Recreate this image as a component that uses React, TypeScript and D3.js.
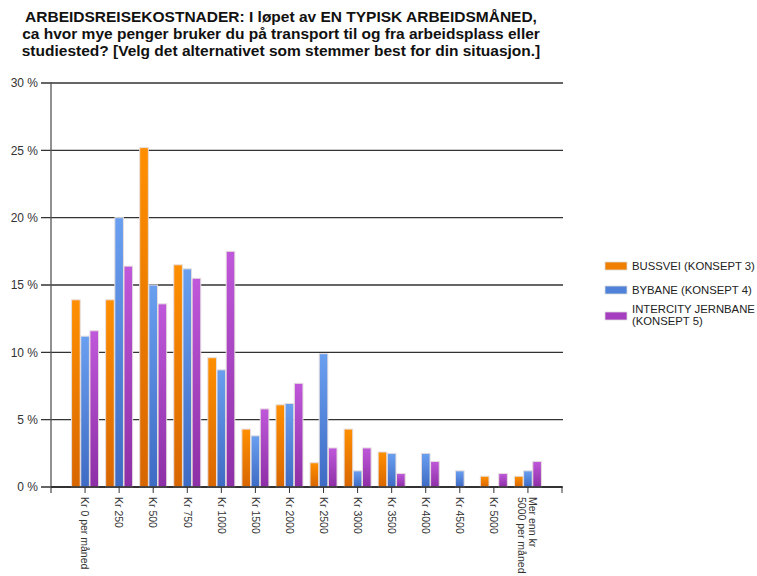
import React from "react";
import * as d3 from "d3";

const categories = [
  "Kr 0 per måned",
  "Kr 250",
  "Kr 500",
  "Kr 750",
  "Kr 1000",
  "Kr 1500",
  "Kr 2000",
  "Kr 2500",
  "Kr 3000",
  "Kr 3500",
  "Kr 4000",
  "Kr 4500",
  "Kr 5000",
  "Mer enn kr 5000 per måned",
];

const seriesNames = [
  "BUSSVEI (KONSEPT 3)",
  "BYBANE (KONSEPT 4)",
  "INTERCITY JERNBANE (KONSEPT 5)",
];

const bussvei = [13.9, 13.9, 25.2, 16.5, 9.6, 4.3, 6.1, 1.8, 4.3, 2.6, 0, 0, 0.8, 0.8];
const bybane = [11.2, 20.0, 15.0, 16.2, 8.7, 3.8, 6.2, 9.9, 1.2, 2.5, 2.5, 1.2, 0, 1.2];
const intercity = [11.6, 16.4, 13.6, 15.5, 17.5, 5.8, 7.7, 2.9, 2.9, 1.0, 1.9, 0, 1.0, 1.9];

const seriesValues = [bussvei, bybane, intercity];
const yTicks = [0, 5, 10, 15, 20, 25, 30];

const titleLines = [
  "ARBEIDSREISEKOSTNADER: I løpet av EN TYPISK ARBEIDSMÅNED,",
  "ca hvor mye penger bruker du på transport til og fra arbeidsplass eller",
  "studiested? [Velg det alternativet som stemmer best for din situasjon.]",
];

const gradients = [
  { id: "g-orange", top: "#ff8f00", bottom: "#d86600" },
  { id: "g-blue", top: "#6a9ff0", bottom: "#3e6bc4" },
  { id: "g-purple", top: "#bf58da", bottom: "#8d2fa6" },
];
const swatchColors = ["#f07f00", "#4f82d8", "#a53fc0"];

const W = 757;
const H = 576;
const left = 51;
const right = 562;
const top = 83;
const bottom = 487;

export default function App() {
  const x = d3.scalePoint<string>().domain(categories).range([left, right]).padding(1);
  const y = d3.scaleLinear().domain([0, 30]).range([bottom, top]);
  const x1 = d3
    .scaleBand<number>()
    .domain([0, 1, 2])
    .range([-13.5, 13.5])
    .paddingInner(0.06);

  const font = "'Liberation Sans', Arial, sans-serif";

  const legendItems = [
    { lines: ["BUSSVEI (KONSEPT 3)"], y: 266 },
    { lines: ["BYBANE (KONSEPT 4)"], y: 290 },
    { lines: ["INTERCITY JERNBANE", "(KONSEPT 5)"], y: 316 },
  ];

  return (
    <svg
      width={W}
      height={H}
      style={{ position: "absolute", left: 0, top: 0, background: "#fff" }}
      fontFamily={font}
    >
      <defs>
        {gradients.map((g) => (
          <linearGradient key={g.id} id={g.id} x1="0" y1="0" x2="0" y2="1">
            <stop offset="0%" stopColor={g.top} />
            <stop offset="100%" stopColor={g.bottom} />
          </linearGradient>
        ))}
      </defs>

      {/* title */}
      {titleLines.map((t, i) => (
        <text
          key={i}
          x={281}
          y={22 + i * 17}
          textAnchor="middle"
          fontSize={15.5}
          fontWeight="bold"
          fill="#111"
        >
          {t}
        </text>
      ))}

      {/* gridlines and y ticks */}
      {yTicks.map((v) => (
        <g key={v}>
          <line x1={left - 10} x2={right + 1} y1={y(v)} y2={y(v)} stroke="#333" strokeWidth={1.3} />
          <text
            x={38}
            y={y(v)}
            dy="0.35em"
            textAnchor="end"
            fontSize={12}
            fill="#333"
          >
            {`${v} %`}
          </text>
        </g>
      ))}

      {/* bars */}
      {categories.map((c, ci) => (
        <g key={c} transform={`translate(${x(c)},0)`}>
          {seriesValues.map((vals, si) =>
            vals[ci] > 0 ? (
              <rect
                key={si}
                x={x1(si)}
                y={y(vals[ci])}
                width={x1.bandwidth()}
                height={y(0) - y(vals[ci])}
                fill={`url(#${gradients[si].id})`}
                stroke="#e6dede"
                strokeWidth={1}
              />
            ) : null
          )}
        </g>
      ))}

      {/* axes */}
      <line x1={left} x2={left} y1={top - 1} y2={bottom + 6} stroke="#555" strokeWidth={1.3} />
      <line x1={left} x2={right} y1={bottom} y2={bottom} stroke="#222" strokeWidth={1.5} />
      {categories.map((c) => (
        <line key={c} x1={x(c)} x2={x(c)} y1={bottom} y2={bottom + 6} stroke="#333" strokeWidth={1} />
      ))}
      <line x1={right} x2={right} y1={bottom} y2={bottom + 6} stroke="#333" strokeWidth={1} />

      {/* x labels, rotated */}
      {categories.map((c) => {
        const lines =
          c === "Mer enn kr 5000 per måned" ? ["Mer enn kr", "5000 per måned"] : [c];
        const px = x(c) as number;
        return (
          <text
            key={c}
            transform={`translate(${px},${bottom + 10}) rotate(90)`}
            fontSize={10.5}
            fill="#333"
          >
            {lines.map((l, i) => (
              <tspan
                key={i}
                x={0}
                y={lines.length === 1 ? 3.7 : -1.5 + i * 11}
              >
                {l}
              </tspan>
            ))}
          </text>
        );
      })}

      {/* legend */}
      {legendItems.map((item, i) => (
        <g key={i}>
          <title>{seriesNames[i]}</title>
          <rect x={605} y={item.y - 4} width={22} height={8} fill={swatchColors[i]} stroke="#ddd" strokeWidth={0.8} />
          <text x={632} fontSize={11.3} fill="#222">
            {item.lines.map((l, j) => (
              <tspan
                key={j}
                x={632}
                y={item.y + 4 + (item.lines.length === 1 ? 0 : -7 + j * 12)}
              >
                {l}
              </tspan>
            ))}
          </text>
        </g>
      ))}
    </svg>
  );
}
